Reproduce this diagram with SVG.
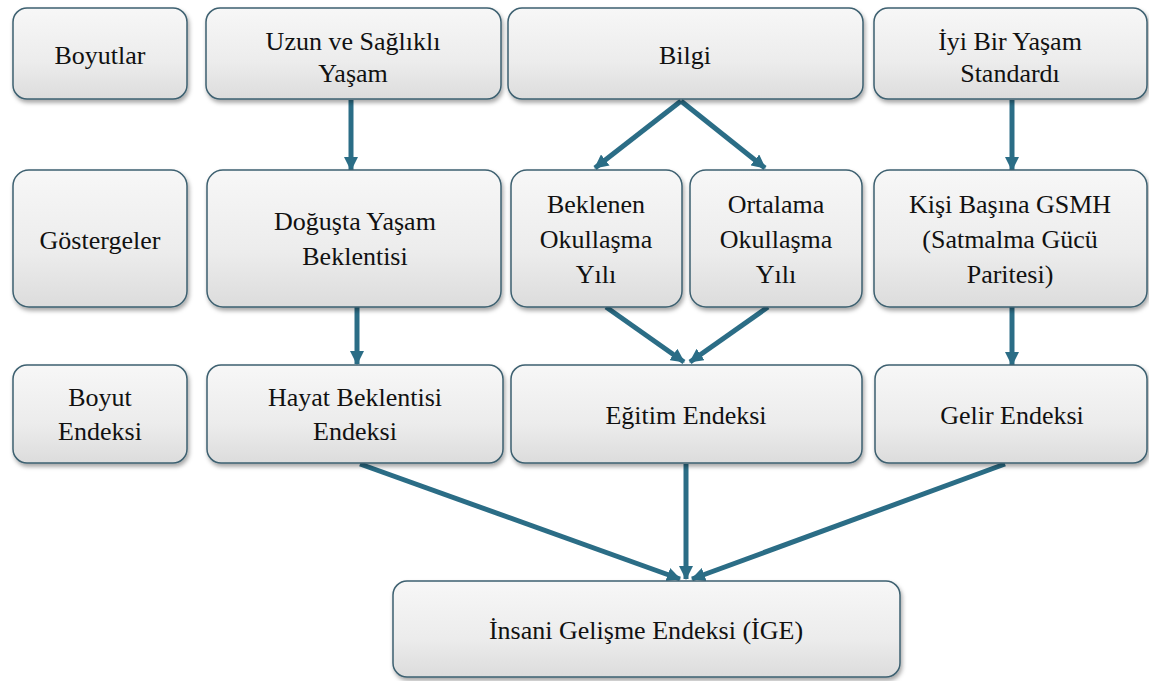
<svg xmlns="http://www.w3.org/2000/svg" width="1149" height="681" viewBox="0 0 1149 681">
<defs>
<linearGradient id="g" x1="0" y1="0" x2="0" y2="1">
<stop offset="0" stop-color="#f7f7f7"/>
<stop offset="0.6" stop-color="#ececec"/>
<stop offset="1" stop-color="#dcdcdc"/>
</linearGradient>
<filter id="sh" x="-10%" y="-10%" width="120%" height="130%">
<feDropShadow dx="1.5" dy="3" stdDeviation="2" flood-color="#000" flood-opacity="0.35"/>
</filter>
<marker id="ah" viewBox="0 0 14 14" refX="13" refY="7" markerWidth="14" markerHeight="14" markerUnits="userSpaceOnUse" orient="auto">
<path d="M0,0 L14,7 L0,14 Z" fill="#2b6d86"/>
</marker>
<style>
.box{fill:url(#g);stroke:#3d6070;stroke-width:1.5;filter:url(#sh)}
.t{font-size:26px;fill:#111;text-anchor:middle}
.c{stroke:#2b6d86;stroke-width:5;fill:none;marker-end:url(#ah)}
</style>
</defs>
<rect width="1149" height="681" fill="#fff"/>
<g id="connectors">
<line class="c" x1="351" y1="100" x2="351" y2="170"/>
<line class="c" x1="681" y1="101" x2="595" y2="168"/>
<line class="c" x1="681" y1="101" x2="765" y2="168"/>
<line class="c" x1="1012" y1="100" x2="1012" y2="170"/>
<line class="c" x1="357" y1="307" x2="357" y2="364"/>
<line class="c" x1="606" y1="307" x2="684" y2="362"/>
<line class="c" x1="768" y1="307" x2="690" y2="362"/>
<line class="c" x1="1012" y1="307" x2="1012" y2="365"/>
<line class="c" x1="360" y1="464" x2="680" y2="579"/>
<line class="c" x1="686" y1="464" x2="686" y2="579"/>
<line class="c" x1="1005" y1="464" x2="692" y2="579"/>
</g>
<g font-family="'Liberation Serif', Tinos, 'Times New Roman', 'DejaVu Serif', serif">
<g id="boyutlar"><rect class="box" x="13" y="8" width="174" height="91" rx="14"/><text class="t" x="100" y="64">Boyutlar</text></g>
<g id="uzun"><rect class="box" x="206" y="8" width="295" height="91" rx="14"/><text class="t" x="353" y="50">Uzun ve Sağlıklı</text><text class="t" x="353" y="82">Yaşam</text></g>
<g id="bilgi"><rect class="box" x="508" y="8" width="355" height="91" rx="14"/><text class="t" x="685" y="64">Bilgi</text></g>
<g id="iyi"><rect class="box" x="874" y="8" width="273" height="91" rx="14"/><text class="t" x="1010" y="50">İyi Bir Yaşam</text><text class="t" x="1010" y="82">Standardı</text></g>
<g id="gostergeler"><rect class="box" x="13" y="170" width="174" height="137" rx="16"/><text class="t" x="100" y="249">Göstergeler</text></g>
<g id="dogusta"><rect class="box" x="207" y="170" width="294" height="137" rx="16"/><text class="t" x="355" y="230">Doğuşta Yaşam</text><text class="t" x="355" y="265">Beklentisi</text></g>
<g id="beklenen"><rect class="box" x="511" y="170" width="171" height="137" rx="16"/><text class="t" x="596" y="213">Beklenen</text><text class="t" x="596" y="248">Okullaşma</text><text class="t" x="596" y="283">Yılı</text></g>
<g id="ortalama"><rect class="box" x="690" y="170" width="172" height="137" rx="16"/><text class="t" x="776" y="213">Ortalama</text><text class="t" x="776" y="248">Okullaşma</text><text class="t" x="776" y="283">Yılı</text></g>
<g id="kisi"><rect class="box" x="874" y="170" width="273" height="137" rx="16"/><text class="t" x="1010" y="213">Kişi Başına GSMH</text><text class="t" x="1010" y="248">(Satmalma Gücü</text><text class="t" x="1010" y="283">Paritesi)</text></g>
<g id="boyut-endeksi"><rect class="box" x="13" y="365" width="174" height="98" rx="14"/><text class="t" x="100" y="406">Boyut</text><text class="t" x="100" y="440">Endeksi</text></g>
<g id="hayat"><rect class="box" x="207" y="365" width="296" height="98" rx="14"/><text class="t" x="355" y="406">Hayat Beklentisi</text><text class="t" x="355" y="440">Endeksi</text></g>
<g id="egitim"><rect class="box" x="511" y="365" width="351" height="98" rx="14"/><text class="t" x="686" y="424">Eğitim Endeksi</text></g>
<g id="gelir"><rect class="box" x="875" y="365" width="272" height="98" rx="14"/><text class="t" x="1012" y="424">Gelir Endeksi</text></g>
<g id="ige"><rect class="box" x="393" y="581" width="507" height="96" rx="14"/><text class="t" x="646" y="639">İnsani Gelişme Endeksi (İGE)</text></g>
</g>
</svg>
